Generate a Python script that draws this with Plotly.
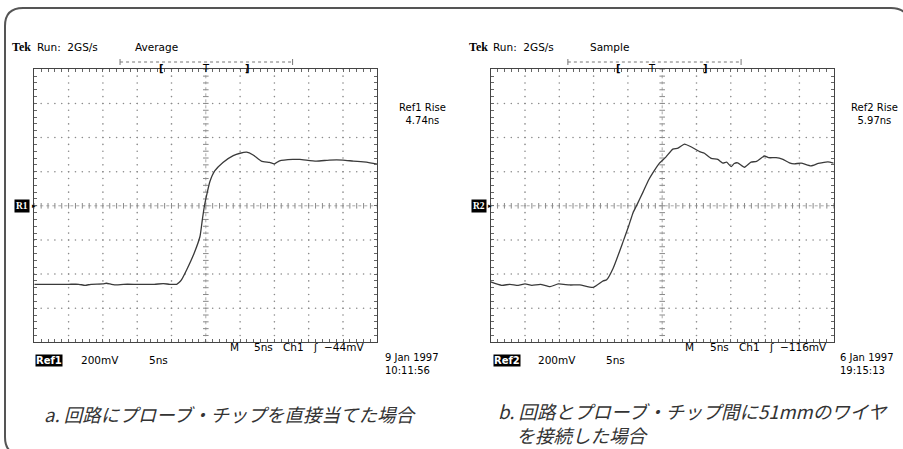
import numpy as np
import plotly.graph_objects as go

W, H = 903, 449

# ---- data (grid divisions: x 0..10, y -4..4) ----
ref1_x = [0, 0.5, 1.0, 1.3, 1.48, 1.65, 2.0, 2.1, 2.25, 2.4, 2.6, 3.0, 3.5, 3.76, 3.95,
          4.15, 4.22, 4.29, 4.44, 4.66, 4.83, 4.90, 4.96, 5.04, 5.12, 5.26, 5.5, 5.8, 6.0,
          6.19, 6.38, 6.62, 6.86, 7.0, 7.15, 7.54, 7.74, 8.22, 8.6, 9.0, 9.3, 9.68, 10.0]
ref1_y = [-2.30, -2.30, -2.30, -2.30, -2.33, -2.30, -2.29, -2.27, -2.30, -2.32, -2.30, -2.30,
          -2.30, -2.28, -2.30, -2.30, -2.25, -2.17, -1.88, -1.39, -0.90, -0.40, 0.0, 0.38,
          0.71, 1.02, 1.27, 1.47, 1.54, 1.57, 1.49, 1.31, 1.27, 1.23, 1.32, 1.36, 1.36, 1.31,
          1.34, 1.34, 1.31, 1.28, 1.22]

ref2_x = [0, 0.32, 0.56, 0.8, 1.0, 1.2, 1.45, 1.73, 1.97, 2.3, 2.6, 2.99, 3.28, 3.38, 3.57,
          3.86, 4.02, 4.15, 4.26, 4.44, 4.6, 4.75, 4.92, 5.1, 5.31, 5.46, 5.65, 5.84, 6.09,
          6.23, 6.43, 6.62, 6.77, 6.88, 7.01, 7.1, 7.2, 7.4, 7.59, 7.75, 7.98, 8.1, 8.32,
          8.5, 8.71, 8.85, 9.05, 9.34, 9.55, 9.83, 10.0]
ref2_y = [-2.23, -2.33, -2.30, -2.33, -2.29, -2.33, -2.30, -2.37, -2.29, -2.32, -2.32, -2.39,
          -2.20, -2.17, -1.83, -1.05, -0.60, -0.20, 0.02, 0.40, 0.75, 1.00, 1.25, 1.42, 1.66,
          1.69, 1.81, 1.73, 1.59, 1.54, 1.39, 1.36, 1.25, 1.28, 1.15, 1.24, 1.26, 1.13, 1.28,
          1.30, 1.46, 1.41, 1.41, 1.37, 1.26, 1.23, 1.25, 1.17, 1.24, 1.29, 1.25]

panels = [
    dict(xa="x", ya="y", left=34.3, trace_x=ref1_x, trace_y=ref1_y, mode="Average",
         ref="Ref1", marker="R1", rise="Ref1 Rise<br>4.74ns", trig="\u221244mV",
         date="9 Jan 1997", time="10:11:56",
         bracket=(2.5, 7.53), lb=3.72, tpos=5.02, rb=6.22),
    dict(xa="x2", ya="y2", left=490.7, trace_x=ref2_x, trace_y=ref2_y, mode="Sample",
         ref="Ref2", marker="R2", rise="Ref2 Rise<br>5.97ns", trig="\u2212116mV",
         date="6 Jan 1997", time="19:15:13",
         bracket=(2.25, 7.3), lb=3.72, tpos=4.7, rb=6.26),
]

DIV = 34.3
TOP, BOT = 69.3, 342.3
GRAY = "#8a8a8a"
FONT = "DejaVu Sans"


def px(x):
    return x / W


def py(y):
    return 1 - y / H


fig = go.Figure()
annos = []
shapes = []

for i, p in enumerate(panels):
    xa, ya = p["xa"], p["ya"]
    fine = np.round(np.arange(0, 10.001, 0.2), 3)
    finey = np.round(np.arange(-4, 4.001, 0.2), 3)
    gx, gy = [], []
    for k in range(1, 10):
        if k == 5:
            continue
        gx += [k] * len(finey)
        gy += list(finey)
    for k in range(-3, 4):
        if k == 0:
            continue
        gx += list(fine)
        gy += [k] * len(fine)
    fig.add_trace(go.Scatter(x=gx, y=gy, mode="markers", xaxis=xa, yaxis=ya,
                             marker=dict(size=1.6, color=GRAY), hoverinfo="skip",
                             showlegend=False))
    fig.add_trace(go.Scatter(x=[0, 10], y=[0, 0], mode="lines", xaxis=xa, yaxis=ya,
                             line=dict(color="#aaa", width=1, dash="dot"), hoverinfo="skip",
                             showlegend=False))
    fig.add_trace(go.Scatter(x=[5, 5], y=[-4, 4], mode="lines", xaxis=xa, yaxis=ya,
                             line=dict(color="#aaa", width=1, dash="dot"), hoverinfo="skip",
                             showlegend=False))
    fig.add_trace(go.Scatter(x=list(fine), y=[0] * len(fine), mode="markers", xaxis=xa, yaxis=ya,
                             marker=dict(symbol="line-ns", size=4, color=GRAY,
                                         line=dict(width=1, color=GRAY)),
                             hoverinfo="skip", showlegend=False))
    fig.add_trace(go.Scatter(x=[5] * len(finey), y=list(finey), mode="markers", xaxis=xa, yaxis=ya,
                             marker=dict(symbol="line-ew", size=4, color=GRAY,
                                         line=dict(width=1, color=GRAY)),
                             hoverinfo="skip", showlegend=False))
    fig.add_trace(go.Scatter(x=p["trace_x"], y=p["trace_y"], mode="lines", xaxis=xa, yaxis=ya,
                             line=dict(color="#3a3a3a", width=1.3, shape="spline", smoothing=0.5),
                             hoverinfo="skip", showlegend=False))

    L = p["left"]
    R = L + 10 * DIV
    ax_common = dict(showgrid=False, zeroline=False, showticklabels=False, ticks="inside",
                     ticklen=3, tickcolor="#666", showline=True, linecolor="#444",
                     linewidth=1.2, mirror="ticks", dtick=0.2, fixedrange=True)
    suffix = "" if i == 0 else "2"
    fig.update_layout(**{
        "xaxis" + suffix: dict(domain=[px(L), px(R)], range=[0, 10], anchor=ya, tick0=0,
                               **ax_common),
        "yaxis" + suffix: dict(domain=[py(BOT), py(TOP)], range=[-4, 4], anchor=xa, tick0=0,
                               **ax_common),
    })

    xr = "x" if i == 0 else "x2"
    annos.append(dict(x=px(L - 1), y=py(47), xref="paper", yref="paper", text="<b>Tek</b>",
                      showarrow=False, xanchor="right", yanchor="middle",
                      font=dict(family="Liberation Serif", size=12, color="black")))
    annos.append(dict(x=px(L + 0.5), y=py(47), xref="paper", yref="paper", text="Run:  2GS/s",
                      showarrow=False, xanchor="left", yanchor="middle",
                      font=dict(family=FONT, size=10.5, color="black")))
    annos.append(dict(x=px(L + 99 if i == 0 else L + 97), y=py(47), xref="paper", yref="paper",
                      text=p["mode"], showarrow=False, xanchor="left", yanchor="middle",
                      font=dict(family=FONT, size=10.5, color="black")))
    b0, b1 = p["bracket"]
    shapes.append(dict(type="line", xref=xr, yref="paper", x0=b0, x1=b1, y0=py(62), y1=py(62),
                       line=dict(color="#777", width=1, dash="dot")))
    for bx in (b0, b1):
        shapes.append(dict(type="line", xref=xr, yref="paper", x0=bx, x1=bx, y0=py(59), y1=py(65),
                           line=dict(color="#777", width=1)))
    annos.append(dict(x=p["lb"], y=py(61), xref=xr, yref="paper", text="<b>[</b>", showarrow=False,
                      font=dict(family=FONT, size=10, color="black")))
    annos.append(dict(x=p["tpos"], y=py(61), xref=xr, yref="paper", text="T", showarrow=False,
                      font=dict(family=FONT, size=10, color="black")))
    annos.append(dict(x=p["rb"], y=py(61), xref=xr, yref="paper", text="<b>]</b>", showarrow=False,
                      font=dict(family=FONT, size=10, color="black")))
    annos.append(dict(x=px(R + (45 if i == 0 else 40.5)), y=py(114), xref="paper", yref="paper",
                      text=p["rise"], showarrow=False, xanchor="center", yanchor="middle",
                      font=dict(family=FONT, size=10, color="black")))
    annos.append(dict(x=px(L - 4), y=py(206), xref="paper", yref="paper",
                      text="<b>" + p["marker"] + "</b>", showarrow=False, xanchor="right",
                      yanchor="middle", bgcolor="black", borderpad=1,
                      font=dict(family="Liberation Serif", size=9.5, color="white")))
    annos.append(dict(x=px(L - 4.5), y=py(206), xref="paper", yref="paper", text="\u25B8",
                      showarrow=False, xanchor="left", yanchor="middle",
                      font=dict(family=FONT, size=7, color="black")))
    for txt, dx in (("M", 193.5), ("5ns", 218), ("Ch1", 247), ("\u0283", 277), (p["trig"], 288)):
        annos.append(dict(x=px(L + dx if i == 0 else L + dx - 1), y=py(347), xref="paper",
                          yref="paper", text=txt, showarrow=False, xanchor="left",
                          yanchor="middle", font=dict(family=FONT, size=10.5, color="black")))
    annos.append(dict(x=px(L + 0.5 if i == 0 else L + 2.5), y=py(360), xref="paper",
                      yref="paper", text="<b>" + p["ref"] + "</b>", showarrow=False,
                      xanchor="left", yanchor="middle", bgcolor="black", borderpad=0,
                      font=dict(family=FONT, size=10, color="white")))
    annos.append(dict(x=px(L + 45), y=py(360), xref="paper", yref="paper", text="200mV",
                      showarrow=False, xanchor="left", yanchor="middle",
                      font=dict(family=FONT, size=10.5, color="black")))
    annos.append(dict(x=px(L + 113), y=py(360), xref="paper", yref="paper", text="5ns",
                      showarrow=False, xanchor="left", yanchor="middle",
                      font=dict(family=FONT, size=10.5, color="black")))
    annos.append(dict(x=px(R + 6 if i == 0 else R + 4.5), y=py(363.5), xref="paper",
                      yref="paper", text=p["date"] + "<br>" + p["time"], showarrow=False,
                      xanchor="left", yanchor="middle", align="left",
                      font=dict(family=FONT, size=10, color="black")))

cap_font = dict(family="Noto Sans CJK JP", size=18.5, color="#333", style="italic")
annos.append(dict(x=px(42), y=py(414), xref="paper", yref="paper",
                  text="a. 回路にプローブ・チップを直接当てた場合", showarrow=False,
                  xanchor="left", yanchor="middle", font=cap_font))
annos.append(dict(x=px(496), y=py(423), xref="paper", yref="paper",
                  text="b. 回路とプローブ・チップ間に51mmのワイヤ<br>\u3000を接続した場合",
                  showarrow=False, xanchor="left", yanchor="middle", align="left",
                  font=cap_font))

r = 18
x0, y0, x1, y1 = 5, 8, 909, 455
path = (f"M {px(x0)},{py(y0 + r)} Q {px(x0)},{py(y0)} {px(x0 + r)},{py(y0)} "
        f"L {px(x1 - r)},{py(y0)} Q {px(x1)},{py(y0)} {px(x1)},{py(y0 + r)} "
        f"L {px(x1)},{py(y1 - r)} Q {px(x1)},{py(y1)} {px(x1 - r)},{py(y1)} "
        f"L {px(x0 + r)},{py(y1)} Q {px(x0)},{py(y1)} {px(x0)},{py(y1 - r)} Z")
shapes.append(dict(type="path", xref="paper", yref="paper", path=path,
                   line=dict(color="#555", width=2)))

fig.update_layout(width=W, height=H, margin=dict(l=0, r=0, t=0, b=0, pad=0),
                  paper_bgcolor="white", plot_bgcolor="white", showlegend=False,
                  annotations=annos, shapes=shapes)

fig.write_html("out.html", config={"displayModeBar": False},
               post_script="document.body.style.margin='0';document.body.style.overflow='hidden';")
